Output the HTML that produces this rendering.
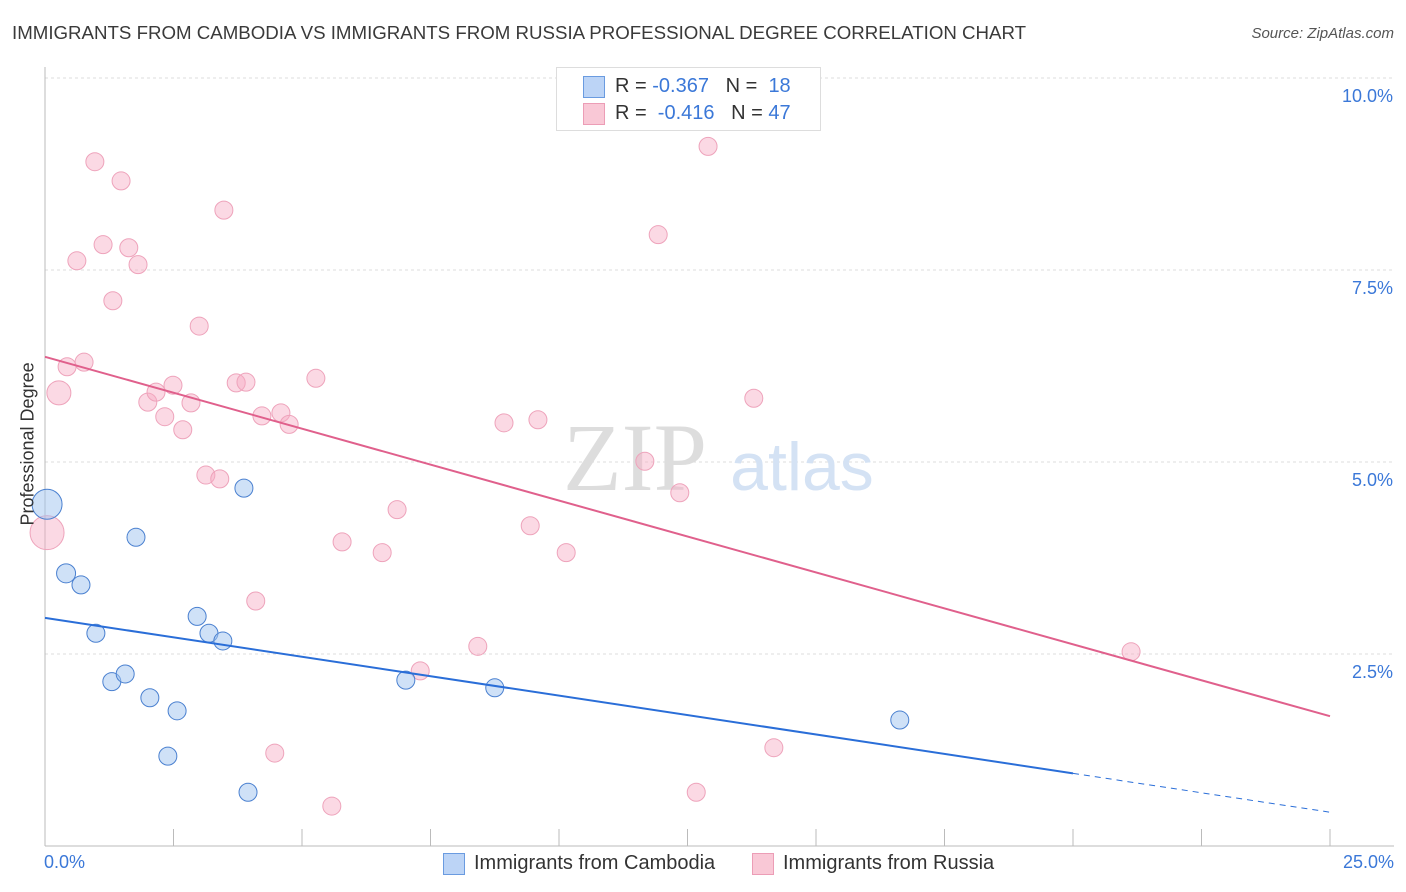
<!DOCTYPE html>
<html><head><meta charset="utf-8"><style>
body{margin:0;background:#fff;font-family:"Liberation Sans",sans-serif;}
#wrap{position:relative;width:1406px;height:892px;overflow:hidden;}
.t{position:absolute;white-space:nowrap;}
</style></head><body>
<div id="wrap">
<div class="t" style="left:12px;top:22px;font-size:18.7px;color:#3a3a3a;">IMMIGRANTS FROM CAMBODIA VS IMMIGRANTS FROM RUSSIA PROFESSIONAL DEGREE CORRELATION CHART</div>
<div class="t" style="right:12px;top:25px;font-size:15px;color:#555;font-style:italic;">Source: ZipAtlas.com</div>
<svg id="svg" width="1406" height="892" style="position:absolute;left:0;top:0"></svg>
</div>
<script>
const xTicks=[0,2.5,5,7.5,10,12.5,15,17.5,20,22.5,25];
const yTicks=[2.5,5,7.5,10];
const yTickLabels=["2.5%","5.0%","7.5%","10.0%"];
const camX=[0.04,0.41,0.70,0.99,1.30,1.56,1.77,2.04,2.39,2.57,2.96,3.19,3.46,3.87,3.95,7.02,8.75,16.63];
const camY=[4.45,3.55,3.40,2.77,2.14,2.24,4.02,1.93,1.17,1.76,2.99,2.77,2.67,4.66,0.70,2.16,2.06,1.64];
const rusX=[0.04,0.27,0.43,0.62,0.76,0.97,1.13,1.32,1.48,1.63,1.81,2.00,2.16,2.33,2.49,2.68,2.84,3.00,3.13,3.40,3.48,3.72,3.91,4.10,4.22,4.47,4.59,4.75,5.27,5.58,5.78,6.56,6.85,7.30,8.42,8.93,9.44,9.59,10.14,11.67,11.93,12.35,12.67,12.90,13.79,14.18,21.13];
const rusY=[4.08,5.90,6.24,7.62,6.30,8.91,7.83,7.10,8.66,7.79,7.57,5.78,5.91,5.59,6.00,5.42,5.77,6.77,4.83,4.78,8.28,6.03,6.04,3.19,5.60,1.21,5.64,5.49,6.09,0.52,3.96,3.82,4.38,2.28,2.60,5.51,4.17,5.55,3.82,5.01,7.96,4.60,0.70,9.11,5.83,1.28,2.53];
const camSize=[15,9.5,9,9,9,9,9,9,9,9,9,9,9,9,9,9,9,9];
const rusSize=[17,12,9,9,9,9,9,9,9,9,9,9,9,9,9,9,9,9,9,9,9,9,9,9,9,9,9,9,9,9,9,9,9,9,9,9,9,9,9,9,9,9,9,9,9,9,9];
const camTrend=[2.97,0.44], rusTrend=[6.37,1.69];
const X=v=>45+v/25*1285, Y=v=>846-v*76.8;
const svg=document.getElementById('svg');const NS='http://www.w3.org/2000/svg';
function mk(tag,attrs,name,parent){const e=document.createElementNS(NS,tag);for(const k in attrs)e.setAttribute(k,attrs[k]);


(parent||svg).appendChild(e);return e;}
yTicks.forEach((t,i)=>{mk('line',{x1:45,x2:1394,y1:Y(t),y2:Y(t),stroke:'#ddd','stroke-dasharray':'3,3'},'y-gridline');
const tx=mk('text',{x:1393,y:Y(t)+24,'text-anchor':'end','font-size':18,fill:'#3b78d8','font-family':'Liberation Sans'},'y-tick-label');tx.textContent=yTickLabels[i];});
mk('line',{x1:45,x2:45,y1:67,y2:846,stroke:'#bbb'},'y-axis');
mk('line',{x1:45,x2:1394,y1:846,y2:846,stroke:'#bbb'},'x-axis');
xTicks.forEach(t=>mk('line',{x1:X(t),x2:X(t),y1:829,y2:846,stroke:'#bbb'},'x-tick'));
const wm=mk('text',{x:635,y:490,'text-anchor':'middle','font-size':96,fill:'#ddd','font-family':'Liberation Serif'},'watermark-zip');wm.textContent='ZIP';
const wm2=mk('text',{x:802,y:490,'text-anchor':'middle','font-size':68,fill:'#d4e2f4','font-family':'Liberation Sans'},'watermark-atlas');wm2.textContent='atlas';
rusX.forEach((v,i)=>mk('circle',{cx:X(v),cy:Y(rusY[i]),r:rusSize[i],fill:'rgba(246,170,195,0.45)',stroke:'#eea3bb','stroke-width':1},'russia-point'));
camX.forEach((v,i)=>mk('circle',{cx:X(v),cy:Y(camY[i]),r:camSize[i],fill:'rgba(160,195,240,0.5)',stroke:'#4a80d0','stroke-width':1},'cambodia-point'));
mk('line',{x1:X(0),y1:Y(rusTrend[0]),x2:X(25),y2:Y(rusTrend[1]),stroke:'#e0608c','stroke-width':2},'russia-trendline');
const cy20=camTrend[0]+(camTrend[1]-camTrend[0])*20/25;
mk('line',{x1:X(0),y1:Y(camTrend[0]),x2:X(20),y2:Y(cy20),stroke:'#2a6ed8','stroke-width':2},'cambodia-trendline');
mk('line',{x1:X(20),y1:Y(cy20),x2:X(25),y2:Y(camTrend[1]),stroke:'#2a6ed8','stroke-width':1,'stroke-dasharray':'6,5'},'cambodia-trendline-extension');
</script>
<div class="t" style="left:44px;top:852px;font-size:18px;color:#3b78d8;">0.0%</div>
<div class="t" style="right:12px;top:852px;font-size:18px;color:#3b78d8;">25.0%</div>
<div class="t" style="left:-42px;top:445px;font-size:18px;color:#333;transform:rotate(-90deg);width:140px;text-align:center;">Professional Degree</div>
<div style="position:absolute;left:556px;top:67px;width:263px;height:62px;border:1px solid #ddd;background:#fff;font-size:20px;">
<div style="position:absolute;left:26px;top:8px;width:20px;height:20px;background:#bcd4f6;border:1px solid #6a9be0;"></div>
<div class="t" style="left:58px;top:7px;color:#333;">R = <span style="color:#3b78d8">-0.367</span> &nbsp;&nbsp;N = &nbsp;<span style="color:#3b78d8">18</span></div>
<div style="position:absolute;left:26px;top:35px;width:20px;height:20px;background:#f9c8d6;border:1px solid #ec9db6;"></div>
<div class="t" style="left:58px;top:34px;color:#333;">R = &nbsp;<span style="color:#3b78d8">-0.416</span> &nbsp;&nbsp;N = <span style="color:#3b78d8">47</span></div>
</div>
<div style="position:absolute;left:0;top:852px;width:1406px;font-size:20px;color:#333;">
<div style="position:absolute;left:443px;top:1px;width:20px;height:20px;background:#bcd4f6;border:1px solid #6a9be0;"></div>
<div class="t" style="left:474px;top:0;">Immigrants from Cambodia</div>
<div style="position:absolute;left:752px;top:1px;width:20px;height:20px;background:#f9c8d6;border:1px solid #ec9db6;"></div>
<div class="t" style="left:783px;top:0;">Immigrants from Russia</div>
</div>
</body></html>
